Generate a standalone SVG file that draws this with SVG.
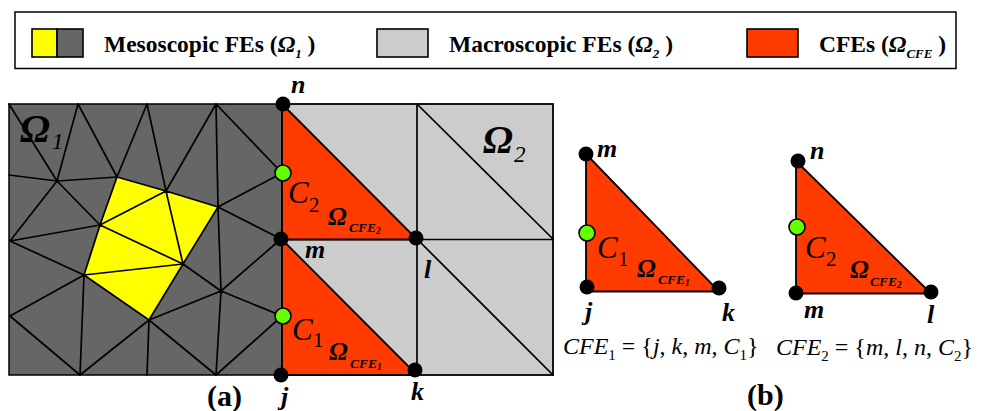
<svg xmlns="http://www.w3.org/2000/svg" width="983" height="411" viewBox="0 0 983 411">
<style>
text{font-family:"Liberation Serif","Times New Roman",serif;fill:#000}
.leg{font-size:23.500px;font-weight:bold}
.bi{font-style:italic;font-weight:bold}
.i{font-style:italic}
.lab{font-size:26px;font-style:italic;font-weight:bold}
.cap{font-size:30px;font-weight:bold}
.c{font-size:31px;font-style:italic}
.cs{font-size:21px}
.om{font-size:25px;font-style:italic;font-weight:bold}
.oms{font-size:13.500px;font-style:italic;font-weight:bold}
.big{font-size:40px;font-style:italic;font-weight:bold}
.bigs{font-size:23px;font-style:italic}
.eq{font-size:24px}
.sw{stroke:#000;stroke-width:1.6}
.m{fill:none;stroke:#000;stroke-width:1.7;stroke-linecap:round}
.d{fill:#000}
.g{fill:#66ff00;stroke:#000;stroke-width:1.6}
.r{fill:#ff3b00;stroke:#000;stroke-width:1.8;stroke-linejoin:round}
</style>
<g id="legend">
<rect x="15" y="12" width="941" height="56.500" fill="#fff" stroke="#000" stroke-width="1.500"/>
<rect class="sw" x="32" y="29" width="25" height="28" fill="#ffff00"/>
<rect class="sw" x="57" y="29" width="26" height="28" fill="#666"/>
<text class="leg" x="104" y="52">Mesoscopic FEs (<tspan class="bi">Ω</tspan><tspan class="bi" font-size="13" dy="6">1</tspan><tspan dy="-6"> )</tspan></text>
<rect class="sw" x="377" y="29" width="51" height="28" fill="#ccc"/>
<text class="leg" x="449" y="52">Macroscopic FEs (<tspan class="bi">Ω</tspan><tspan font-size="13" class="i" dy="6">2</tspan><tspan dy="-6"> )</tspan></text>
<rect class="sw" x="747" y="29" width="51" height="28" fill="#ff3b00"/>
<text class="leg" x="819" y="52">CFEs (<tspan class="bi">Ω</tspan><tspan class="bi" font-size="13" dy="6">CFE</tspan><tspan dy="-6"> )</tspan></text>
</g>
<g id="domain-1">
<rect x="9" y="104" width="274" height="271" fill="#666" stroke="#000" stroke-width="1.500"/>
<polygon points="117,177 218,207 183,264 149,320 84,275 100,225" fill="#ffff00"/>
</g>
<g id="domain-2">
<rect x="282" y="104" width="271" height="271" fill="#ccc" stroke="#000" stroke-width="1.800"/>
</g>
<g id="connectors">
<path class="m" d="M9 104L57 181M78 104L57 181M78 104L117 177M147 104L117 177M147 104L166 191M216 104L166 191M216 104L218 207M216 104L282 173M9 175L57 181M57 181L117 177M57 181L100 225M57 181L10 241M117 177L100 225M117 177L166 191M166 191L100 225M166 191L218 207M166 191L183 264M218 207L282 173M218 207L281 239M218 207L221 291M218 207L183 264M100 225L10 241M100 225L84 275M100 225L183 264M10 241L84 275M84 275L183 264M84 275L10 316M84 275L80 375M84 275L149 320M183 264L149 320M183 264L221 291M221 291L281 239M221 291L282 316M221 291L149 320M221 291L216 375M149 320L80 375M149 320L147 375M149 320L216 375M10 316L80 375M216 375L282 316"/>
<path class="m" d="M417 104V375M282 239.500H553M417 104L553 239M417 239L553 375"/>
</g>
<g id="cfe-2-mesh"><polygon class="r" points="282,104 282,239.500 417,239.500"/></g>
<g id="cfe-1-mesh"><polygon class="r" points="282,239.500 282,375 417,375"/></g>
<g id="labels-a">
<text class="big" x="20" y="142">Ω</text><text class="bigs" x="52" y="149">1</text>
<text class="big" x="483" y="153">Ω</text><text class="bigs" x="514" y="162">2</text>
<text class="c" x="288" y="203">C</text><text class="cs" x="309" y="212">2</text>
<text class="om" x="328" y="225">Ω</text><text class="oms" x="349" y="232">CFE<tspan font-size="9.500" dy="2">2</tspan></text>
<text class="c" x="292" y="340">C</text><text class="cs" x="313" y="347">1</text>
<text class="om" x="329" y="360">Ω</text><text class="oms" x="350" y="368">CFE<tspan font-size="9.500" dy="2">1</tspan></text>
<text class="lab" x="291" y="93">n</text>
<text class="lab" x="305" y="258">m</text>
<text class="lab" x="424" y="278">l</text>
<text class="lab" x="411" y="400">k</text>
<text class="lab" x="281" y="405">j</text>
<text class="cap" x="207" y="406">(a)</text>
<text class="cap" x="747" y="405">(b)</text>
</g>
<g id="node-n"><circle class="d" cx="283" cy="104" r="7.500"/></g>
<g id="node-c2"><circle class="g" cx="283" cy="173" r="8"/></g>
<g id="node-m"><circle class="d" cx="281" cy="239" r="7.500"/></g>
<g id="node-l"><circle class="d" cx="416" cy="238" r="7.500"/></g>
<g id="node-c1"><circle class="g" cx="283" cy="316" r="8"/></g>
<g id="node-j"><circle class="d" cx="281" cy="375" r="7.500"/></g>
<g id="node-k"><circle class="d" cx="415" cy="370" r="7.500"/></g>
<g id="cfe-1">
<polygon class="r" points="586,154 586,291.500 719,291.500"/>
<circle class="d" cx="586" cy="154" r="7.500"/>
<circle class="g" cx="587" cy="233" r="8"/>
<circle class="d" cx="587" cy="287" r="7.500"/>
<circle class="d" cx="719" cy="288" r="7.500"/>
<text class="lab" x="597" y="157">m</text>
<text class="c" x="597" y="258">C</text><text class="cs" x="618" y="266">1</text>
<text class="om" x="637" y="277">Ω</text><text class="oms" x="658" y="284">CFE<tspan font-size="9.500" dy="2">1</tspan></text>
<text class="lab" x="585" y="320">j</text>
<text class="lab" x="722" y="321">k</text>
<text class="eq" x="563" y="354"><tspan class="i">CFE</tspan><tspan font-size="15" dy="6">1</tspan><tspan dy="-6"> = {</tspan><tspan class="i">j</tspan>, <tspan class="i">k</tspan>, <tspan class="i">m</tspan>, <tspan class="i">C</tspan><tspan font-size="15" dy="6">1</tspan><tspan dy="-6">}</tspan></text>
</g>
<g id="cfe-2">
<polygon class="r" points="796,161 796,293.500 931,293.500"/>
<circle class="d" cx="798" cy="161" r="7.500"/>
<circle class="g" cx="797" cy="227" r="8"/>
<circle class="d" cx="796" cy="293" r="7.500"/>
<circle class="d" cx="931" cy="292" r="7.500"/>
<text class="lab" x="810" y="159">n</text>
<text class="c" x="805" y="258">C</text><text class="cs" x="826" y="266">2</text>
<text class="om" x="850" y="278">Ω</text><text class="oms" x="870" y="286">CFE<tspan font-size="9.500" dy="2">2</tspan></text>
<text class="lab" x="804" y="318">m</text>
<text class="lab" x="927" y="323">l</text>
<text class="eq" x="776" y="355"><tspan class="i">CFE</tspan><tspan font-size="15" dy="6">2</tspan><tspan dy="-6"> = {</tspan><tspan class="i">m</tspan>, <tspan class="i">l</tspan>, <tspan class="i">n</tspan>, <tspan class="i">C</tspan><tspan font-size="15" dy="6">2</tspan><tspan dy="-6">}</tspan></text>
</g>
</svg>
